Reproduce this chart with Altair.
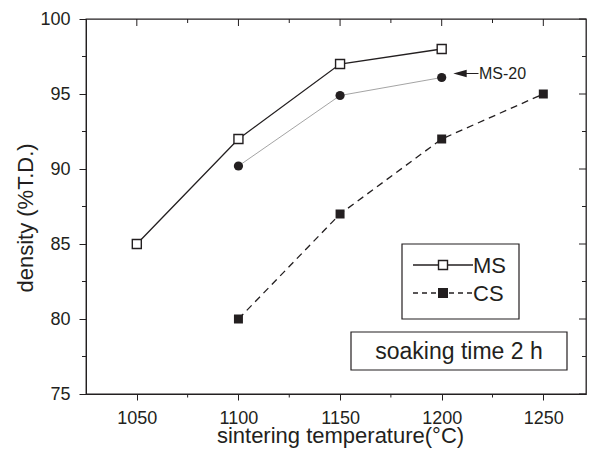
import altair as alt
import pandas as pd

# ---- data ----
ms_temp = [1050, 1100, 1150, 1200]
ms_density = [85, 92, 97, 98]
ms20_temp = [1100, 1150, 1200]
ms20_density = [90.2, 94.9, 96.1]
cs_temp = [1100, 1150, 1200, 1250]
cs_density = [80, 87, 92, 95]

x_major = [1050, 1100, 1150, 1200, 1250]
x_minor = [1075, 1125, 1175, 1225]
y_major = [75, 80, 85, 90, 95, 100]
y_minor = [77.5, 82.5, 87.5, 92.5, 97.5]

FONT = "Liberation Sans, Arial, Helvetica, sans-serif"
INK = "#231f20"
W, H = 500, 375

ms = pd.DataFrame({"t": ms_temp, "d": ms_density})
ms20 = pd.DataFrame({"t": ms20_temp, "d": ms20_density})
cs = pd.DataFrame({"t": cs_temp, "d": cs_density})

xs = alt.Scale(domain=[1025, 1271], nice=False, zero=False)
ys = alt.Scale(domain=[75, 100], nice=False, zero=False)

X = alt.X("t:Q", scale=xs, axis=alt.Axis(
    values=x_major, title="sintering temperature(°C)", format="d",
    tickSize=6, labelPadding=9, labelFontSize=18, labelFont=FONT, labelColor=INK,
    titleFont=FONT, titleFontSize=22, titleFontWeight="normal", titleColor=INK,
    titleBaseline="alphabetic", titleY=48, titleX=254,
    domainColor=INK, tickColor=INK, grid=False, labelFlush=False))
Y = alt.Y("d:Q", scale=ys, axis=alt.Axis(
    values=y_major, title="density (%T.D.)", format="d",
    tickSize=7, labelPadding=9, labelFontSize=18, labelFont=FONT, labelColor=INK,
    titleFont=FONT, titleFontSize=22, titleFontWeight="normal", titleColor=INK,
    titleBaseline="alphabetic", titleX=-53.5, titleY=198.5, titleAlign="center",
    domainColor=INK, tickColor=INK, grid=False, labelFlush=False))

ms_line = alt.Chart(ms).mark_line(color=INK, strokeWidth=1.3).encode(x=X, y=Y)
ms_pts = alt.Chart(ms).mark_point(shape="square", size=81, filled=True, fill="white",
                                  stroke=INK, strokeWidth=1.4, opacity=1).encode(x=X, y=Y)
ms20_line = alt.Chart(ms20).mark_line(color="#9a9a9a", strokeWidth=0.9).encode(x=X, y=Y)
ms20_pts = alt.Chart(ms20).mark_point(shape="circle", size=85, filled=True, color=INK,
                                      opacity=1).encode(x=X, y=Y)
cs_line = alt.Chart(cs).mark_line(color=INK, strokeWidth=1.3, strokeDash=[7, 5]).encode(x=X, y=Y)
cs_pts = alt.Chart(cs).mark_point(shape="square", size=81, filled=True, color=INK,
                                  opacity=1).encode(x=X, y=Y)

# ---- extra ticks (minor + mirrored) ----
def xticks(vals, y0, y1):
    return alt.Chart(pd.DataFrame({"t": vals})).mark_rule(color=INK, strokeWidth=1).encode(
        x=alt.X("t:Q", scale=xs), y=alt.value(y0), y2=alt.value(y1))

def yticks(vals, x0, x1):
    return alt.Chart(pd.DataFrame({"d": vals})).mark_rule(color=INK, strokeWidth=1).encode(
        y=alt.Y("d:Q", scale=ys), x=alt.value(x0), x2=alt.value(x1))

ticks = [
    xticks(x_minor, H, H + 3.5),
    yticks(y_minor, -4, 0),
    xticks(x_major, 0, 7),
    xticks(x_minor, 0, 4),
    yticks(y_major, W - 7, W),
    yticks(y_minor, W - 4, W),
]

# ---- legend box ----
one = pd.DataFrame({"a": [0]})
leg_box = alt.Chart(one).mark_rect(fill="white", stroke=INK, strokeWidth=1.2).encode(
    x=alt.value(316), x2=alt.value(433), y=alt.value(225), y2=alt.value(300))
leg_ms_line = alt.Chart(one).mark_rule(color=INK, strokeWidth=1.3).encode(
    x=alt.value(327), x2=alt.value(387), y=alt.value(246))
leg_ms_pt = alt.Chart(one).mark_point(shape="square", size=81, filled=True, fill="white",
                                      stroke=INK, strokeWidth=1.4, opacity=1).encode(
    x=alt.value(357), y=alt.value(246))
leg_ms_txt = alt.Chart(one).mark_text(text="MS", font=FONT, fontSize=22, color=INK,
                                      align="left", baseline="middle").encode(
    x=alt.value(387), y=alt.value(247))
leg_cs_line = alt.Chart(one).mark_rule(color=INK, strokeWidth=1.3, strokeDash=[5, 4]).encode(
    x=alt.value(327), x2=alt.value(387), y=alt.value(274))
leg_cs_pt = alt.Chart(one).mark_point(shape="square", size=100, filled=True, color=INK,
                                      opacity=1).encode(x=alt.value(357), y=alt.value(274))
leg_cs_txt = alt.Chart(one).mark_text(text="CS", font=FONT, fontSize=22, color=INK,
                                      align="left", baseline="middle").encode(
    x=alt.value(387), y=alt.value(275))

# ---- soaking time box ----
soak_box = alt.Chart(one).mark_rect(fill="white", stroke=INK, strokeWidth=1.2).encode(
    x=alt.value(265), x2=alt.value(481), y=alt.value(313), y2=alt.value(351))
soak_txt = alt.Chart(one).mark_text(text="soaking time 2 h", font=FONT, fontSize=23, color=INK,
                                    align="center", baseline="middle").encode(
    x=alt.value(373), y=alt.value(333))

# ---- MS-20 annotation ----
arrow_line = alt.Chart(one).mark_rule(color=INK, strokeWidth=1).encode(
    x=alt.value(378.5), x2=alt.value(392.5), y=alt.value(54.5))
arrow_head = alt.Chart(one).mark_point(shape="M -1 0 L 1 -0.55 L 1 0.55 Z", size=180,
                                       filled=True, color=INK, opacity=1).encode(
    x=alt.value(374), y=alt.value(54.5))
ms20_txt = alt.Chart(one).mark_text(text="MS-20", font=FONT, fontSize=16, color=INK,
                                    align="left", baseline="middle").encode(
    x=alt.value(393), y=alt.value(55))

chart = alt.layer(
    ms20_line, ms_line, cs_line, ms20_pts, ms_pts, cs_pts,
    *ticks,
    leg_box, leg_ms_line, leg_ms_pt, leg_ms_txt, leg_cs_line, leg_cs_pt, leg_cs_txt,
    soak_box, soak_txt, arrow_line, arrow_head, ms20_txt,
).properties(
    width=W, height=H,
    autosize=alt.AutoSizeParams(type="none"),
    padding={"left": 78, "top": 11, "right": 1, "bottom": 54},
    background="white",
).configure_view(stroke=INK, strokeWidth=1.3)

chart.save("out.html", embed_options={"renderer": "svg", "actions": False})
